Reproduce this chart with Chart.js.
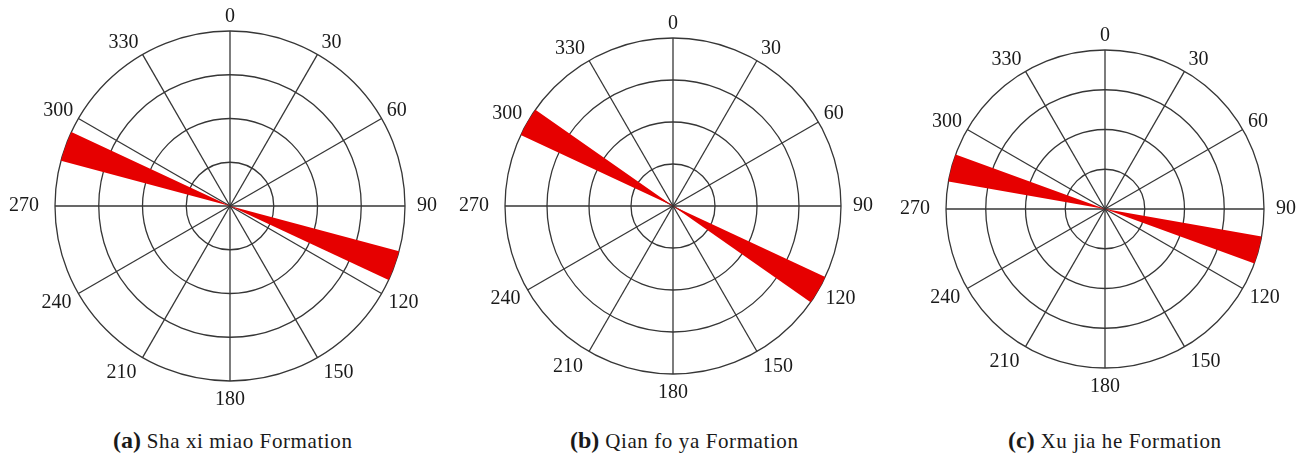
<!DOCTYPE html>
<html><head><meta charset="utf-8">
<script src="https://cdn.jsdelivr.net/npm/chart.js@4.4.1/dist/chart.umd.min.js"></script>
<style>
html,body{margin:0;padding:0;width:1304px;height:456px;overflow:hidden;background:#fff;}
canvas{position:absolute;}
.cap{position:absolute;top:428px;font-family:'Liberation Serif','Times New Roman',serif;font-size:21px;line-height:24px;color:#1a1a1a;white-space:nowrap;letter-spacing:0.6px}
.cap b{font-size:24px;letter-spacing:0}
</style></head><body>
<canvas id="ca" width="504" height="412" style="left:-22px;top:-4px"></canvas>
<canvas id="cb" width="504" height="398" style="left:421px;top:3px"></canvas>
<canvas id="cc" width="504" height="380" style="left:853px;top:15px"></canvas>
<div class="cap" id="capA" style="left:113px"></div>
<div class="cap" id="capB" style="left:570px"></div>
<div class="cap" id="capC" style="left:1008px"></div>
<script>
// Azimuth tick labels shown around each rose (degrees)
const azimuthLabels = ['0','30','60','90','120','150','180','210','240','270','300','330'];
const ringMax = 4;       // outer ring value (4 rings)

// Petals: start azimuth, end azimuth, frequency
const fromA = [105, 285];
const toA   = [115, 295];
const freqA = [4, 4];
const fromB = [115, 295];
const toB   = [125, 305];
const freqB = [4, 4];
const fromC = [100, 280];
const toC   = [110, 290];
const freqC = [4, 4];

const panelTags = ['(a)', '(b)', '(c)'];
const panelNames = ['Sha xi miao Formation', 'Qian fo ya Formation', 'Xu jia he Formation'];

// label distance from the outer ring, per azimuth label
const labelPad = {'0':9,'30':8,'60':6,'90':12,'120':8,'150':12,'180':14,'210':12,'240':8,'270':16,'300':6,'330':8};

// Build polar-area segments (gaps + petals) with their angular widths
function buildSegments(from, to, freq) {
  const data = [], angles = [];
  let cur = 0;
  from.forEach((f, i) => {
    if (f > cur) { data.push(0); angles.push(f - cur); }
    data.push(freq[i]); angles.push(to[i] - f);
    cur = to[i];
  });
  if (cur < 360) { data.push(0); angles.push(360 - cur); }
  return { data, angles };
}

const RED = 'rgb(230,0,0)';
const GRID = '#363636';

function makeRose(id, from, to, freq) {
  const seg = buildSegments(from, to, freq);
  new Chart(document.getElementById(id), {
    type: 'polarArea',
    data: {
      labels: azimuthLabels,
      datasets: [{
        data: seg.data,
        angle: seg.angles,
        backgroundColor: RED,
        borderWidth: 0
      }]
    },
    options: {
      responsive: false,
      animation: false,
      events: [],
      plugins: { legend: { display: false }, tooltip: { enabled: false }, title: { display: false } },
      layout: { padding: { top: 14 } },
      scales: {
        r: {
          min: 0,
          max: ringMax,
          startAngle: 0,
          ticks: { display: false, stepSize: 1 },
          grid: { display: true, circular: true, color: GRID, lineWidth: 1.3 },
          angleLines: { display: true, color: GRID, lineWidth: 1.3 },
          pointLabels: {
            display: true,
            centerPointLabels: false,
            padding: c => labelPad[c.label] ?? 9,
            color: '#1a1a1a',
            font: { family: "'Liberation Serif','Times New Roman',serif", size: 20, lineHeight: 0.5 }
          }
        }
      }
    }
  });
}

makeRose('ca', fromA, toA, freqA);
makeRose('cb', fromB, toB, freqB);
makeRose('cc', fromC, toC, freqC);

['capA','capB','capC'].forEach((id, i) => {
  const el = document.getElementById(id);
  const b = document.createElement('b');
  b.textContent = panelTags[i];
  el.appendChild(b);
  el.appendChild(document.createTextNode(' ' + panelNames[i]));
});
</script>
</body></html>
